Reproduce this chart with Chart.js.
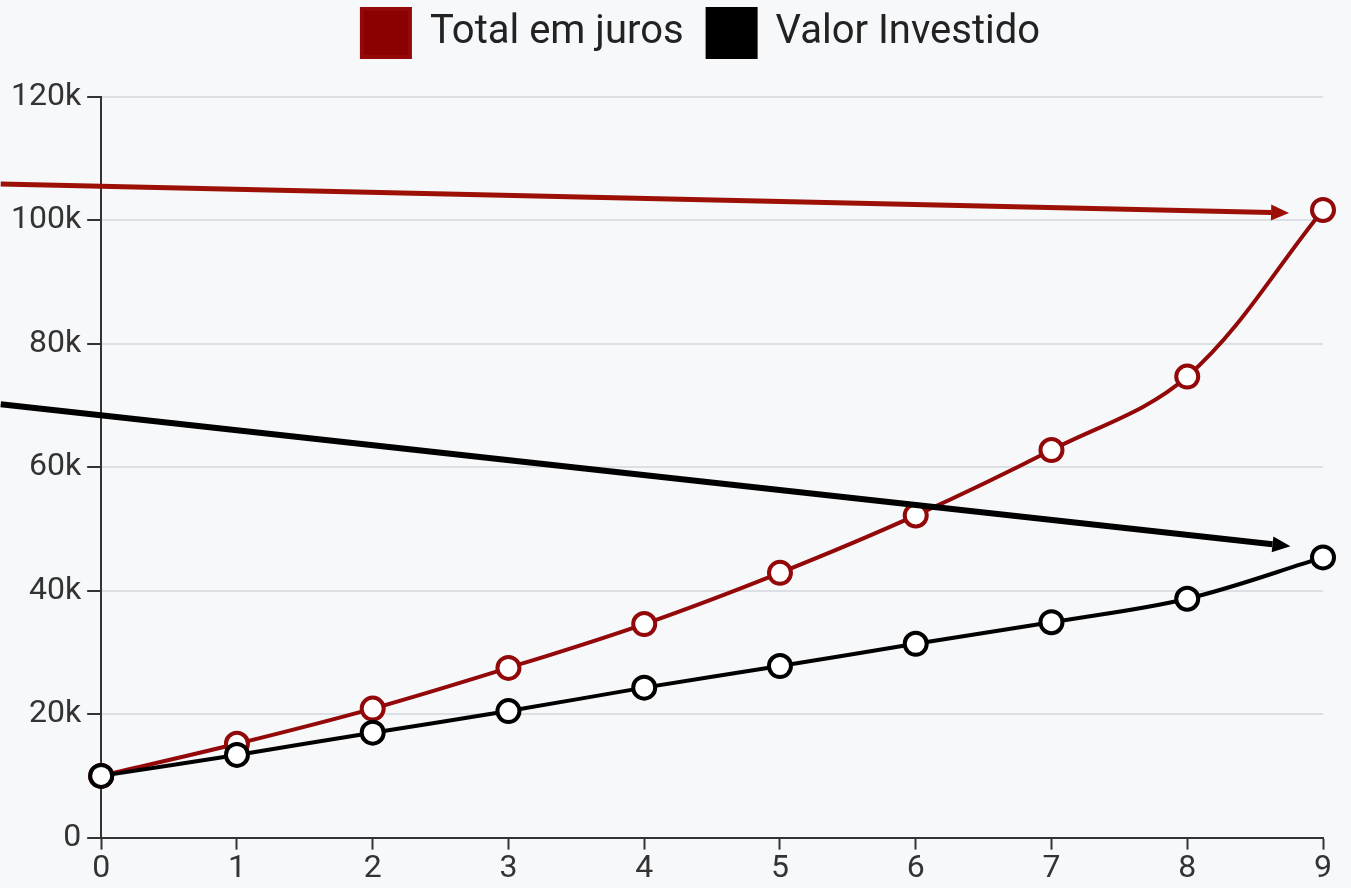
<!DOCTYPE html>
<html><head><meta charset="utf-8">
<script src="https://cdn.jsdelivr.net/npm/chart.js@4.4.1/dist/chart.umd.min.js"></script>
<style>
html,body{margin:0;padding:0;background:#f6f8fa;}
#wrap{width:1351px;height:888px;}
</style></head>
<body><div id="wrap"><canvas id="c" width="1351" height="888"></canvas></div>
<script>
const years = ["0","1","2","3","4","5","6","7","8","9"];
const totalJuros = [10000, 15200, 20900, 27500, 34600, 42900, 52200, 62800, 74700, 101700];
const valorInvestido = [10000, 13400, 17000, 20500, 24300, 27800, 31400, 34900, 38700, 45400];
const yTicks = [0, 20000, 40000, 60000, 80000, 100000, 120000];
// annotation arrows: [xStart, yStart, xEnd, yEnd] in data units
const arrowJuros = [-0.74, 105900, 8.75, 101200];
const arrowInvestido = [-0.74, 70200, 8.76, 47200];

const arrowPlugin = {
  id: 'arrows',
  afterDatasetsDraw(chart) {
    const ctx = chart.ctx, xs = chart.scales.x, ys = chart.scales.y;
    const draw = (a, color, w) => {
      const x1 = xs.getPixelForValue(a[0]), y1 = ys.getPixelForValue(a[1]);
      const x2 = xs.getPixelForValue(a[2]), y2 = ys.getPixelForValue(a[3]);
      const ang = Math.atan2(y2 - y1, x2 - x1);
      const hl = 18, hw = 8;
      ctx.save();
      ctx.strokeStyle = color; ctx.fillStyle = color; ctx.lineWidth = w;
      ctx.beginPath();
      ctx.moveTo(x1, y1);
      ctx.lineTo(x2 - hl * Math.cos(ang), y2 - hl * Math.sin(ang));
      ctx.stroke();
      ctx.beginPath();
      ctx.moveTo(x2, y2);
      ctx.lineTo(x2 - hl * Math.cos(ang) + hw * Math.sin(ang), y2 - hl * Math.sin(ang) - hw * Math.cos(ang));
      ctx.lineTo(x2 - hl * Math.cos(ang) - hw * Math.sin(ang), y2 - hl * Math.sin(ang) + hw * Math.cos(ang));
      ctx.closePath();
      ctx.fill();
      ctx.restore();
    };
    draw(arrowJuros, '#9c1006', 5);
    draw(arrowInvestido, '#000000', 6);
  }
};

const legendSpacer = {
  id: 'legendSpacer',
  beforeInit(chart) {
    const origFit = chart.legend.fit;
    chart.legend.fit = function () { origFit.bind(this)(); this.height += 30; };
  },
  afterLayout(chart) {
    chart.legend.left += 74;
  }
};

Chart.defaults.font.family = 'Roboto';
Chart.defaults.color = '#333';

new Chart(document.getElementById('c'), {
  type: 'line',
  data: {
    labels: years,
    datasets: [
      {label: 'Total em juros', data: totalJuros, borderColor: '#930808', backgroundColor: '#8b0000',
       pointBackgroundColor: '#ffffff', pointBorderColor: '#930808', pointRadius: 11, pointBorderWidth: 4,
       borderWidth: 4, tension: 0.35, clip: false, order: 1},
      {label: 'Valor Investido', data: valorInvestido, borderColor: '#000000', backgroundColor: '#000000',
       pointBackgroundColor: '#ffffff', pointBorderColor: '#000000', pointRadius: 11, pointBorderWidth: 4,
       borderWidth: 4, tension: 0.35, clip: false, order: 0}
    ]
  },
  options: {
    responsive: false,
    animation: false,
    layout: {padding: {left: 5, right: 28, top: -15, bottom: 0}},
    plugins: {
      legend: {
        position: 'top',
        reverse: true,
        labels: {font: {size: 40}, color: '#222', boxWidth: 48, boxHeight: 48, padding: 24},
      },
      tooltip: {enabled: false}
    },
    scales: {
      x: {
        grid: {drawOnChartArea: false, drawTicks: true, tickLength: 12, tickColor: '#333', tickWidth: 2},
        border: {color: '#333', width: 2},
        ticks: {font: {size: 32}, color: '#333', padding: 0, maxRotation: 0}
      },
      y: {
        min: 0, max: 120000,
        afterBuildTicks(axis) { axis.ticks = yTicks.map(v => ({value: v})); },
        grid: {color: '#dcdfe3', lineWidth: 2, tickLength: 14, tickColor: '#333', tickWidth: 2},
        border: {color: '#333', width: 2},
        ticks: {font: {size: 32}, color: '#333', padding: 6,
          callback: v => v === 0 ? '0' : (v / 1000) + 'k'}
      }
    }
  },
  plugins: [arrowPlugin, legendSpacer]
});
</script></body></html>
